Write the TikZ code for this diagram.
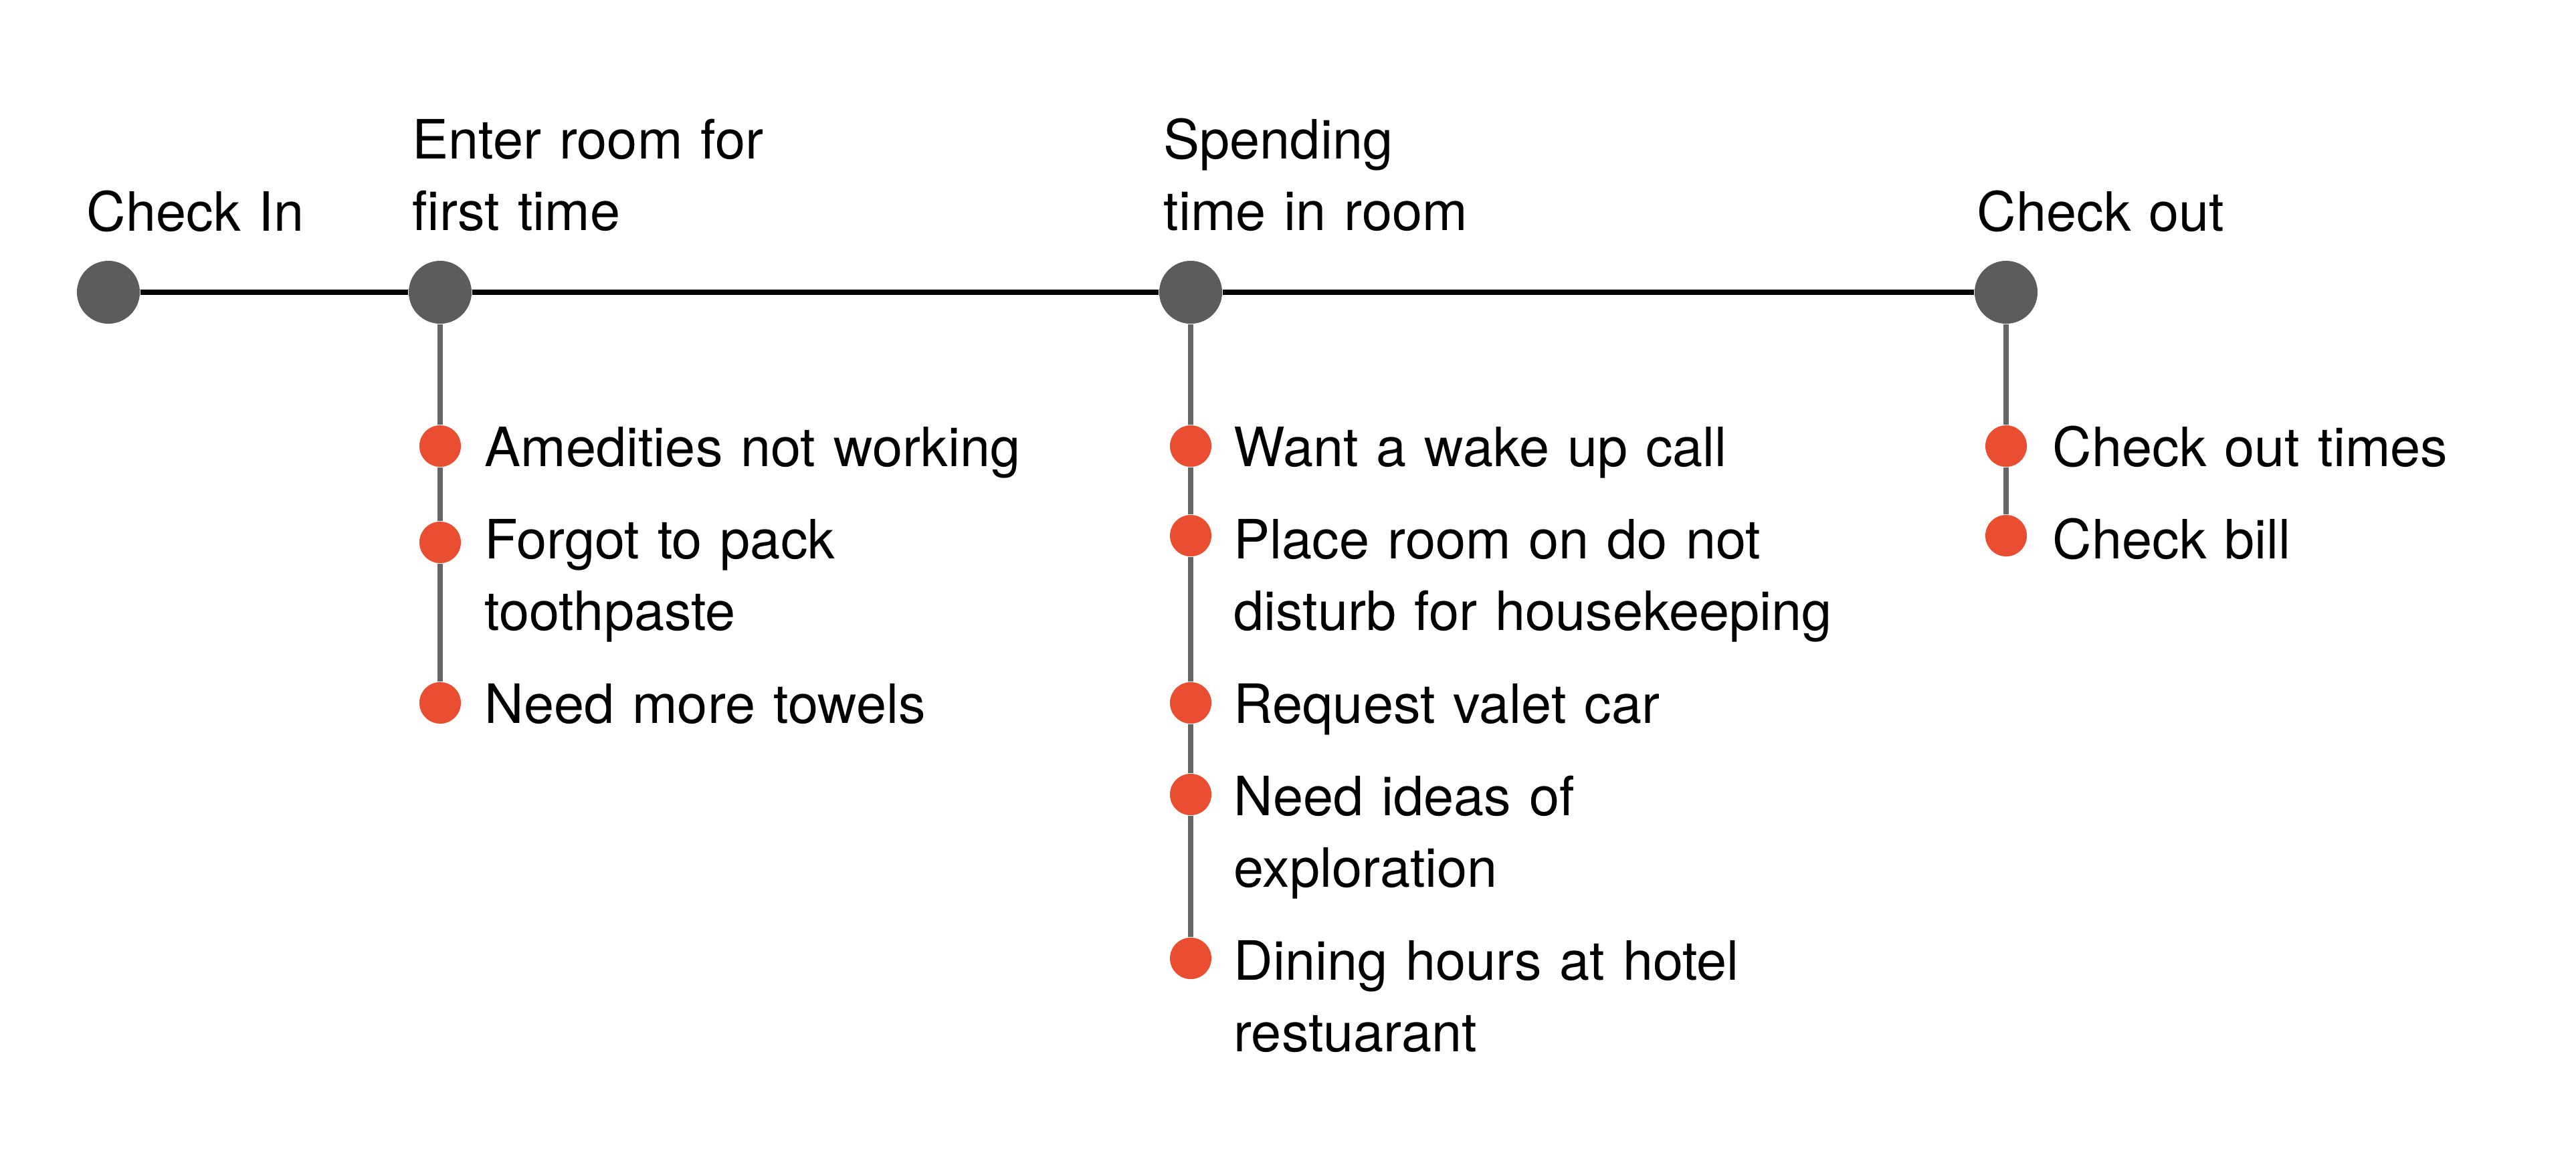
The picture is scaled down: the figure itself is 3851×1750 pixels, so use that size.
\documentclass[tikz,border=0pt]{standalone}
\usepackage{fontspec}
\setmainfont{TeX Gyre Heros}
\definecolor{StageGrey}{HTML}{5B5C5E}
\definecolor{StemGrey}{HTML}{666666}
\definecolor{ItemOrange}{HTML}{EA4E31}

\begin{document}
\begin{tikzpicture}[x=0.01cm, y=-0.01cm,
    stage/.style={circle, fill=StageGrey, minimum size=0.94cm, inner sep=0pt},
    item/.style={circle, fill=ItemOrange, minimum size=0.62cm, inner sep=0pt},
    txt/.style={anchor=base west, inner sep=0pt, text width=10cm,
      font=\fontsize{23.05}{30.45}\selectfont}]
    \useasboundingbox (0,0) rectangle (3851,1750);

    % Phasen auf der Zeitachse
    \node[stage] (checkin) at (162,437) {};
    \node[stage] (enter) at (658,437) {};
    \node[stage] (spend) at (1780,437) {};
    \node[stage] (checkout) at (2999,437) {};
    \node[txt] (lcheckin) at (129,345) {Check In};
    \node[txt] (lenter) at (616,237) {Enter room for\\first time};
    \node[txt] (lspend) at (1739,237) {Spending\\time in room};
    \node[txt] (lcheckout) at (2955,345) {Check out};

    % Punkte: Zimmer betreten
    \node[item] (e1) at (658,667) {};
    \node[item] (e2) at (658,811) {};
    \node[item] (e3) at (658,1051) {};
    \node[txt] at (724,697) {Amedities not working};
    \node[txt] at (724,835) {Forgot to pack\\toothpaste};
    \node[txt] at (724,1081) {Need more towels};

    % Punkte: Zeit im Zimmer
    \node[item] (s1) at (1780,667) {};
    \node[item] (s2) at (1780,801) {};
    \node[item] (s3) at (1780,1051) {};
    \node[item] (s4) at (1780,1188) {};
    \node[item] (s5) at (1780,1433) {};
    \node[txt] at (1844,697) {Want a wake up call};
    \node[txt] at (1844,835) {Place room on do not\\disturb for housekeeping};
    \node[txt] at (1844,1081) {Request valet car};
    \node[txt] at (1844,1219) {Need ideas of\\exploration};
    \node[txt] at (1844,1465) {Dining hours at hotel\\restuarant};

    % Punkte: Auschecken
    \node[item] (c1) at (2999,667) {};
    \node[item] (c2) at (2999,801) {};
    \node[txt] at (3068,697) {Check out times};
    \node[txt] at (3068,835) {Check bill};

    % Linien
    \draw[line width=2.4pt] (checkin) -- (enter) -- (spend) -- (checkout);
    \draw[line width=2.1pt, StemGrey] (enter) -- (e1) -- (e2) -- (e3);
    \draw[line width=2.1pt, StemGrey] (spend) -- (s1) -- (s2) -- (s3) -- (s4) -- (s5);
    \draw[line width=2.1pt, StemGrey] (checkout) -- (c1) -- (c2);
  \end{tikzpicture}
\end{document}
